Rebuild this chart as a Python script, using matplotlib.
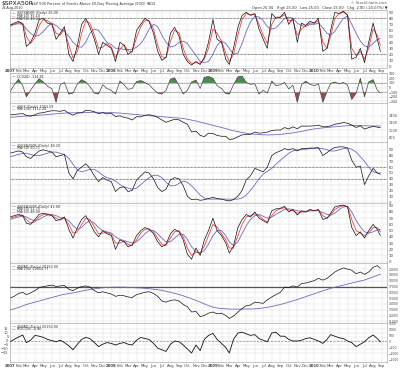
import matplotlib
matplotlib.use("Agg")
import matplotlib.pyplot as plt
import matplotlib.dates as mdates
import pandas as pd

plt.rcParams["text.parse_math"] = False
plt.rcParams["font.family"] = "DejaVu Sans"

# semi-monthly samples (1st and 16th), Jan 2007 - Aug 2010, plus last bar 27-Aug-2010
dates = [pd.Timestamp(y, m, d) for y in range(2007, 2011) for m in range(1, 13)
         for d in (1, 16) if (y, m) <= (2010, 8)]
dates.append(pd.Timestamp(2010, 8, 27))

# panel 1: $SPXA50R with MA(10) / MA(50)
a50 = [68, 72, 75, 70, 33, 40, 55, 78, 80, 72, 70, 45, 55, 66, 20, 8, 35, 70, 80, 65, 45, 20, 40, 35,
       30, 8, 40, 35, 20, 25, 60, 70, 80, 75, 55, 25, 10, 15, 55, 65, 50, 20, 8, 2, 8, 3, 15, 40,
       78, 45, 40, 12, 3, 30, 65, 85, 90, 85, 88, 62, 45, 30, 88, 80, 82, 90, 70, 80, 40, 72, 68, 75,
       72, 80, 25, 30, 60, 90, 88, 92, 85, 12, 15, 30, 6, 40, 72, 45, 25]
a50_ma10 = [66, 70, 73, 72, 50, 38, 48, 68, 78, 76, 71, 55, 52, 62, 35, 14, 25, 55, 76, 72, 52, 30, 32, 38,
            32, 15, 28, 36, 26, 24, 48, 66, 76, 76, 62, 35, 16, 14, 42, 60, 56, 30, 12, 5, 6, 5, 12, 30,
            62, 55, 42, 22, 8, 20, 52, 78, 88, 86, 86, 70, 52, 38, 70, 82, 82, 86, 76, 76, 52, 62, 68, 72,
            72, 76, 40, 30, 50, 80, 88, 90, 86, 30, 18, 25, 12, 30, 62, 52, 35]
a50_ma50 = [70, 70, 71, 70, 62, 55, 50, 52, 58, 66, 72, 68, 62, 58, 50, 40, 33, 32, 40, 55, 62, 60, 50, 40,
            36, 30, 30, 28, 28, 28, 32, 38, 48, 62, 70, 66, 52, 40, 32, 34, 40, 42, 38, 28, 18, 8, 6, 8,
            20, 35, 42, 38, 30, 20, 22, 38, 58, 74, 84, 82, 76, 66, 62, 64, 72, 80, 82, 80, 72, 68, 66, 70,
            70, 72, 64, 55, 52, 58, 70, 80, 84, 70, 55, 42, 34, 32, 38, 45, 46]

# panel 2: CCI(20)
cci = [-100, 60, 180, 40, -200, -60, 80, 190, 120, 30, -30, -320, 60, 110, -140, -120, 80, 170, 120, 20, -120, -140, 60, -20,
       -60, -140, 140, 60, -40, -20, 130, 150, 110, 60, -40, -120, -140, -60, 180, 210, 40, -140, -60, 120, 160, -20, 220, 240,
       200, 40, -20, -130, -140, 60, 230, 250, 110, 70, 80, -140, -60, -120, 140, 40, 60, 110, -30, 50, -320, 60, 140, 70,
       40, 80, -320, -80, 90, 120, 80, 110, 50, -260, -120, 200, -200, 120, 170, -60, -115]

# panel 3: $SPX with MA(200)
spx = [1418, 1431, 1445, 1456, 1403, 1386, 1424, 1468, 1482, 1512, 1536, 1532, 1519, 1549, 1465, 1411, 1473, 1476, 1547, 1538, 1508, 1451, 1481, 1445,
       1468, 1374, 1395, 1350, 1330, 1277, 1370, 1364, 1409, 1425, 1400, 1350, 1280, 1214, 1260, 1298, 1282, 1213, 1161, 946, 968, 850, 816, 913,
       903, 850, 826, 826, 735, 753, 811, 865, 873, 882, 942, 911, 923, 940, 987, 1000, 998, 1068, 1029, 1087, 1036, 1109, 1108, 1110,
       1115, 1136, 1089, 1095, 1115, 1160, 1178, 1210, 1187, 1136, 1070, 1114, 1027, 1065, 1101, 1079, 1065]
spx_ma200 = [1350, 1360, 1370, 1380, 1390, 1395, 1400, 1410, 1420, 1430, 1440, 1450, 1460, 1470, 1475, 1478, 1480, 1482, 1485, 1490, 1493, 1490, 1488, 1485,
             1482, 1478, 1470, 1460, 1450, 1440, 1430, 1418, 1405, 1395, 1388, 1380, 1370, 1360, 1350, 1340, 1330, 1318, 1300, 1275, 1250, 1220, 1190, 1160,
             1130, 1100, 1070, 1040, 1010, 980, 955, 930, 910, 895, 880, 870, 866, 864, 866, 870, 880, 892, 905, 920, 940, 960, 985, 1010,
             1030, 1045, 1060, 1070, 1080, 1090, 1100, 1110, 1120, 1125, 1125, 1123, 1118, 1115, 1112, 1112, 1112]

# panel 4: $SPXA200R with MA(50)
a200 = [84, 86, 88, 86, 78, 75, 82, 88, 90, 88, 86, 78, 80, 82, 50, 40, 55, 60, 66, 58, 45, 35, 42, 38,
        35, 18, 25, 26, 18, 20, 38, 45, 52, 50, 40, 25, 18, 22, 38, 42, 40, 28, 10, 4, 5, 3, 4, 6,
        8, 6, 5, 3, 2, 4, 10, 20, 38, 45, 58, 55, 52, 60, 80, 85, 88, 92, 90, 92, 88, 92, 92, 93,
        93, 94, 80, 85, 90, 94, 95, 95, 93, 72, 60, 62, 30, 45, 58, 50, 48]
a200_ma50 = [78, 80, 82, 84, 84, 82, 80, 80, 82, 84, 86, 86, 84, 82, 75, 65, 55, 52, 54, 56, 56, 52, 46, 42,
             40, 36, 30, 26, 24, 22, 24, 30, 36, 42, 46, 46, 42, 34, 28, 28, 32, 36, 34, 28, 20, 12, 7, 5,
             5, 5, 5, 5, 5, 5, 5, 7, 12, 20, 30, 40, 48, 53, 58, 65, 72, 78, 84, 88, 90, 90, 91, 92,
             92, 92, 92, 90, 88, 88, 90, 92, 93, 91, 86, 78, 70, 60, 52, 50, 50]

# panel 5: $SPXA150R with MA(10) / MA(50)
a150 = [72, 74, 76, 74, 62, 60, 68, 76, 78, 76, 74, 66, 68, 72, 52, 38, 55, 68, 74, 62, 48, 40, 50, 45,
        42, 20, 35, 32, 24, 27, 42, 50, 55, 52, 45, 32, 24, 28, 45, 52, 48, 35, 12, 4, 22, 10, 35, 50,
        70, 50, 42, 30, 14, 25, 55, 68, 76, 72, 80, 70, 66, 62, 82, 85, 86, 89, 80, 84, 75, 82, 80, 84,
        82, 84, 68, 70, 78, 88, 90, 91, 88, 55, 42, 48, 38, 50, 60, 52, 42]
a150_ma10 = [70, 72, 74, 75, 68, 62, 64, 72, 76, 77, 75, 70, 67, 70, 60, 46, 48, 60, 70, 68, 56, 45, 46, 47,
             44, 30, 30, 33, 28, 26, 35, 46, 52, 53, 48, 38, 28, 26, 38, 48, 50, 40, 22, 10, 15, 14, 25, 42,
             60, 56, 45, 35, 22, 22, 42, 60, 72, 74, 77, 74, 68, 64, 74, 82, 85, 87, 83, 82, 78, 80, 80, 82,
             82, 83, 74, 70, 75, 84, 88, 90, 89, 68, 50, 46, 42, 46, 55, 55, 48]
a150_ma50 = [68, 70, 72, 73, 72, 68, 66, 68, 72, 75, 76, 74, 71, 70, 66, 58, 52, 55, 62, 66, 62, 55, 50, 48,
             46, 40, 36, 34, 32, 30, 32, 38, 45, 50, 50, 45, 38, 32, 32, 38, 44, 44, 36, 24, 16, 14, 18, 28,
             42, 50, 50, 42, 32, 26, 32, 45, 58, 68, 74, 76, 73, 70, 72, 76, 80, 84, 85, 84, 82, 81, 81, 82,
             82, 82, 79, 76, 75, 78, 84, 88, 89, 80, 66, 56, 48, 46, 48, 51, 52]

# panel 6: $NYAD cumulative line with MA(200)
nyad = [15000, 15300, 15800, 16000, 15600, 15900, 16300, 16800, 17000, 17100, 17250, 17000, 17100, 17200, 16500, 16300, 16700, 17000, 17100, 16900, 16300, 15900, 16100, 15900,
        15700, 15300, 15500, 15400, 15200, 15100, 15600, 15800, 16000, 16100, 15800, 15300, 14500, 14300, 14600, 14700, 14500, 13900, 13500, 12600, 12700, 11800, 12000, 12400,
        12600, 12300, 12400, 12000, 11500, 11900, 12600, 13200, 13700, 13800, 14300, 14200, 14100, 14700, 15200, 15600, 16000, 16900, 16800, 17100, 16900, 17500, 17600, 17800,
        18000, 18400, 18100, 18400, 18900, 19500, 19900, 20200, 20000, 19800, 19200, 19500, 19100, 19500, 20300, 20600, 20150]
nyad_ma200 = [12950, 13150, 13400, 13650, 13900, 14100, 14300, 14500, 14700, 14900, 15100, 15300, 15500, 15650, 15800, 15900, 16050, 16200, 16350, 16480, 16600, 16700, 16780, 16830,
              16860, 16880, 16880, 16870, 16850, 16820, 16780, 16740, 16690, 16620, 16540, 16450, 16330, 16180, 16000, 15820, 15620, 15400, 15150, 14880, 14600, 14300, 14000, 13700,
              13450, 13300, 13200, 13150, 13120, 13100, 13100, 13110, 13120, 13130, 13150, 13200, 13300, 13420, 13560, 13720, 13900, 14100, 14300, 14520, 14750, 15000, 15250, 15500,
              15750, 16000, 16250, 16480, 16690, 16880, 17060, 17240, 17420, 17600, 17780, 17950, 18120, 18380, 18650, 18900, 19150]

# panel 7: ROC(20) oscillator
roc = [-1, 2, 5, 7.5, -2, 1, 7, 6, 4.5, 2, 0.5, -1, 1, -2, -6, -11, -4, 2, 4.5, 3, -2, -7, -4, -2,
       -3, -5, -3, -2, -4, -5, 1, 4.5, 3, 2, -3, -9, -11, -13, -4, 0, -1, -5, -10, -15, -5, -12, 2, 7,
       9.5, 2, -3, -8, -15, 2, 10, 11, 9, 7, 8, 3, 1, -1, 10, 11, 6, 6, 2, 0, 0, 1, 3, 4,
       2, 0, -3, 2, 8, 6, 4, 3, 0, -2, -7, -4, -1, 4, 7.5, 3, -1]

FW, FH = 400, 369
L, R = 10, 387
BLACK, RED, BLUE, GRID = "#111111", "#ee4444", "#6b6bbf", "#dedede"

fig = plt.figure(figsize=(FW / 100, FH / 100), dpi=100)
xd = mdates.date2num(dates)
xlo = mdates.date2num(pd.Timestamp(2007, 1, 4))
xhi = mdates.date2num(pd.Timestamp(2010, 9, 20))
months = [pd.Timestamp(y, m, 1) for y in range(2007, 2011) for m in range(1, 13) if (y, m) <= (2010, 9)]
month_x = mdates.date2num(months)
month_lbl = [str(m.year) if m.month == 1 else m.strftime("%b") for m in months]


def panel(top, bottom, ylim, yticks, lsize=2.8):
    ax = fig.add_axes([L / FW, 1 - bottom / FH, (R - L) / FW, (bottom - top) / FH])
    ax.set_xlim(xlo, xhi)
    ax.set_ylim(*ylim)
    ax.set_yticks(yticks)
    ax.set_xticks(month_x)
    ax.grid(True, color=GRID, linewidth=0.35)
    ax.set_axisbelow(True)
    ax.yaxis.tick_right()
    ax.tick_params(length=0, labelsize=lsize, labelcolor="#444444", pad=1.2)
    ax.tick_params(axis="x", labelbottom=False)
    for s in ax.spines.values():
        s.set_linewidth(0.4)
        s.set_color("#9a9a9a")
    return ax


def date_labels(ax):
    ax.tick_params(axis="x", labelbottom=True, labelsize=2.8, pad=1.2)
    ax.set_xticklabels(month_lbl)
    for t, m in zip(ax.get_xticklabels(), months):
        if m.month == 1:
            t.set_fontweight("bold")


def legend(ax, items):
    for i, (txt, c) in enumerate(items):
        y = -2.6 - 2.0 * i
        ax.annotate("—", xy=(0, 1), xycoords="axes fraction", xytext=(1.5, y),
                    textcoords="offset points", fontsize=2.6, color=c, va="center")
        ax.annotate(txt, xy=(0, 1), xycoords="axes fraction", xytext=(5, y),
                    textcoords="offset points", fontsize=2.4, color="#333333", va="center")


# header
fig.text(2 / FW, 1 - 4 / FH, "$SPXA50R", fontsize=4.4, va="center", color="#111111")
fig.text(31 / FW, 1 - 4 / FH, "S&P 500 Percent of Stocks Above 50-Day Moving Average (EOD) INDX",
         fontsize=2.5, va="center", color="#333333")
fig.text(2 / FW, 1 - 8.5 / FH, "28-Aug-2010", fontsize=2.4, va="center", color="#333333")
fig.text(R / FW, 1 - 3 / FH, "© StockCharts.com", fontsize=2.6, va="center", ha="right", color="#555555")
fig.text(R / FW, 1 - 7.5 / FH, "Open 25.00   High 25.00   Low 25.00   Close 25.00   Chg -2.80 (-10.07%) ▼",
         fontsize=2.6, va="center", ha="right", color="#333333")

# panel 1
ax1 = panel(9.5, 67.5, (-2, 94.7), range(0, 100, 10))
ax1.plot(xd, a50_ma50, color=BLUE, lw=0.6)
ax1.plot(xd, a50_ma10, color=RED, lw=0.6)
ax1.plot(xd, a50, color=BLACK, lw=0.5)
for lvl in (80, 20):
    ax1.axhline(lvl, color="#333333", lw=0.5, ls=(0, (1, 1)))
legend(ax1, [("$SPXA50R (Daily) 25.00", BLACK), ("MA(10) 35.10", RED), ("MA(50) 46.24", BLUE)])
date_labels(ax1)

# panel 2
ax2 = panel(73, 103, (-335, 315), range(-300, 400, 100), lsize=2.4)
ax2.fill_between(xd, cci, 100, where=[v > 100 for v in cci], interpolate=True, color="#4d8a4d", lw=0)
ax2.fill_between(xd, cci, -100, where=[v < -100 for v in cci], interpolate=True, color="#a34848", lw=0)
for lvl in (100, -100):
    ax2.axhline(lvl, color="#999999", lw=0.5)
ax2.plot(xd, cci, color="#444444", lw=0.5)
legend(ax2, [("CCI(20) -114.81", BLACK)])

# panel 3
ax3 = panel(103, 142, (667, 1750), [800, 1000, 1200, 1400], lsize=2.5)
ax3.plot(xd, spx_ma200, color=BLUE, lw=0.6)
ax3.plot(xd, spx, color=BLACK, lw=0.5)
legend(ax3, [("$SPX (Daily) 1064.59", BLACK), ("MA(200) 1112.24", BLUE)])

# panel 4
ax4 = panel(142, 203, (-1.7, 103.4), range(0, 100, 10))
ax4.plot(xd, a200_ma50, color=BLUE, lw=0.6)
ax4.plot(xd, a200, color=BLACK, lw=0.5)
for lvl in (60, 40):
    ax4.axhline(lvl, color="#333333", lw=0.5, ls=(0, (1, 1)))
legend(ax4, [("$SPXA200R (Daily) 48.20", BLACK), ("MA(50) 50.71", BLUE)])

# panel 5
ax5 = panel(203, 263, (-2.1, 94.4), range(0, 100, 10))
ax5.plot(xd, a150_ma50, color=BLUE, lw=0.6)
ax5.plot(xd, a150_ma10, color=RED, lw=0.6)
ax5.plot(xd, a150, color=BLACK, lw=0.5)
legend(ax5, [("$SPXA150R (Daily) 42.00", BLACK), ("MA(50) 51.75", BLUE), ("MA(10) 48.00", RED)])

# panel 6
ax6 = panel(263, 323, (10707, 21052), range(11000, 21000, 1000), lsize=2.2)
ax6.axhline(17000, color="#555555", lw=0.9)
ax6.plot(xd, nyad_ma200, color=BLUE, lw=0.6)
ax6.plot(xd, nyad, color=BLACK, lw=0.5)
legend(ax6, [("$NYAD (Daily) 20150.00", BLACK), ("MA(200) 19150.77", BLUE)])

# panel 7
ax7 = panel(323, 362, (-26.25, 22.5), range(-15, 20, 5))
ax7.yaxis.tick_left()
ax7.tick_params(axis="y", length=0, labelsize=2.6, pad=1.0)
ax7.axhline(0, color="#888888", lw=0.5, ls=(0, (3, 2)))
ax7.plot(xd, roc, color=BLACK, lw=0.6)
tw = ax7.twinx()
tw.set_ylim(-1667, 1583)
tw.set_yticks(range(-1500, 2000, 500))
tw.tick_params(length=0, labelsize=2.2, labelcolor="#444444", pad=1.0)
for s in tw.spines.values():
    s.set_visible(False)
legend(ax7, [("$NYAD (Daily) 20150.00", BLACK), ("ROC(20) -0.90", BLACK)])
date_labels(ax7)

fig.savefig("out.png", dpi=100)
